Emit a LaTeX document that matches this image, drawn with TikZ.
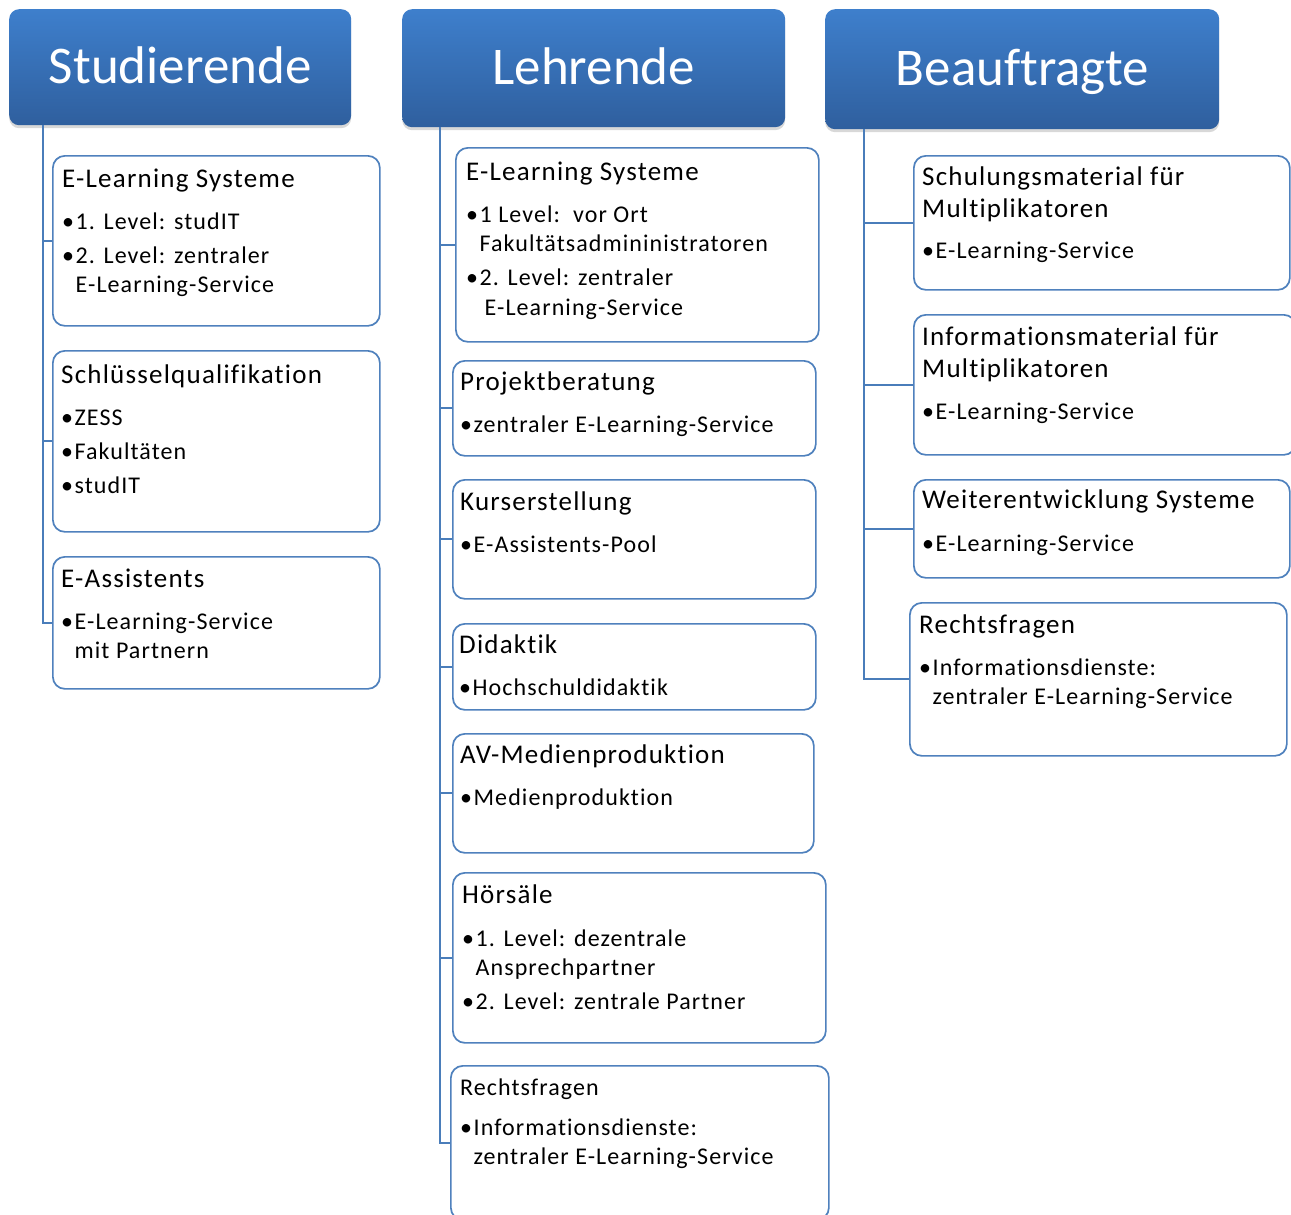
\documentclass[tikz,border=0pt]{standalone}
\usepackage{fontspec}
\setmainfont{Carlito}[RawFeature={-liga}]
\newfontfamily\bodyf{Carlito}[LetterSpace=4.5,RawFeature={-liga}]
\usetikzlibrary{shadows}
\definecolor{hdrTop}{HTML}{3E7FCC}
\definecolor{hdrBot}{HTML}{2F5F9E}
\definecolor{boxLine}{HTML}{4F81BD}
\definecolor{connLine}{HTML}{4A7DBA}
\newcommand\ttl{\fontsize{27}{32}\selectfont}
\newcommand\bl{•\hspace{1.5pt}}
\newcommand\ind{\hphantom{\bl}}
\newcommand\boxtext[3]{\node[txt] (#1t) at ([shift={(#2)}]#1.north west) {\begin{tabular}[t]{@{}l@{}}#3\end{tabular}};}
\begin{document}
\begin{tikzpicture}[x=1pt,y=-1pt,
  hdr/.style={rounded corners=10pt, top color=hdrTop, bottom color=hdrBot, draw=none,
    anchor=north west, text=white, font=\fontsize{53}{60}\selectfont,
    text height=40pt, text depth=8pt, inner sep=0pt,
    drop shadow={opacity=0.3, shadow xshift=0pt, shadow yshift=-3pt}},
  ebox/.style={draw=boxLine, line width=1.7pt, rounded corners=12pt, fill=white,
    anchor=north west, inner sep=0pt},
  txt/.style={anchor=base west, inner sep=0pt, font=\bodyf\fontsize{24}{29.5}\selectfont},
  conn/.style={draw=connLine, line width=1.8pt}]
\fill[white] (0,0) rectangle (1291,1215);
\useasboundingbox (0,0) rectangle (1291,1215);

% headers
\node[hdr, minimum width=342, minimum height=116] (sh) at (9,9) {Studierende};
\node[hdr, minimum width=383, minimum height=118] (lh) at (402,9) {Lehrende};
\node[hdr, minimum width=394, minimum height=120] (bh) at (825,9) {Beauftragte};

% Studierende boxes
\node[ebox, minimum width=327, minimum height=170] (s1) at (52,155) {};
\node[ebox, minimum width=327, minimum height=181] (s2) at (52,350) {};
\node[ebox, minimum width=327, minimum height=132] (s3) at (52,556) {};
\boxtext{s1}{10,32}{\ttl E-Learning Systeme\\[12.5pt] \bl 1. Level: studIT\\[4.5pt] \bl 2. Level: zentraler\\ \ind E-Learning-Service}
\boxtext{s2}{9,33}{\ttl Schlüsselqualifikation\\[12.5pt] \bl ZESS\\[4.5pt] \bl Fakultäten\\[4.5pt] \bl studIT}
\boxtext{s3}{9,31}{\ttl E-Assistents\\[12.5pt] \bl E-Learning-Service\\ \ind mit Partnern}

% Lehrende boxes
\node[ebox, minimum width=363, minimum height=194] (l1) at (455,147) {};
\node[ebox, minimum width=363, minimum height=95] (l2) at (452,360) {};
\node[ebox, minimum width=363, minimum height=119] (l3) at (452,479) {};
\node[ebox, minimum width=363, minimum height=86] (l4) at (452,623) {};
\node[ebox, minimum width=361, minimum height=119] (l5) at (452,733) {};
\node[ebox, minimum width=373, minimum height=170] (l6) at (452,872) {};
\node[ebox, minimum width=378, minimum height=154] (l7) at (450,1065) {};
\boxtext{l1}{11,33}{\ttl E-Learning Systeme\\[12.5pt] \bl 1 Level:\ \ vor Ort\\ \ind Fakultätsadmininistratoren\\[4.5pt] \bl 2. Level: zentraler\\ \ind\hspace{5pt}E-Learning-Service}
\boxtext{l2}{8,30}{\ttl Projektberatung\\[12.5pt] \bl zentraler E-Learning-Service}
\boxtext{l3}{8,31}{\ttl Kurserstellung\\[12.5pt] \bl E-Assistents-Pool}
\boxtext{l4}{7,30}{\ttl Didaktik\\[12.5pt] \bl Hochschuldidaktik}
\boxtext{l5}{8,30}{\ttl AV-Medienproduktion\\[12.5pt] \bl Medienproduktion}
\boxtext{l6}{10,31}{\ttl Hörsäle\\[13.5pt] \bl 1. Level: dezentrale\\ \ind Ansprechpartner\\[4.5pt] \bl 2. Level: zentrale Partner}
\boxtext{l7}{10,30}{Rechtsfragen\\[10.5pt] \bl Informationsdienste:\\ \ind zentraler E-Learning-Service}

% Beauftragte boxes
\node[ebox, minimum width=376, minimum height=134] (b1) at (913,155) {};
\node[ebox, minimum width=382, minimum height=140] (b2) at (913,314) {};
\node[ebox, minimum width=376, minimum height=98] (b3) at (913,479) {};
\node[ebox, minimum width=377, minimum height=153] (b4) at (909,602) {};
\boxtext{b1}{9,30}{\ttl Schulungsmaterial für\\[2.5pt] \ttl Multiplikatoren\\[12.5pt] \bl E-Learning-Service}
\boxtext{b2}{9,31}{\ttl Informationsmaterial für\\[2.5pt] \ttl Multiplikatoren\\[12.5pt] \bl E-Learning-Service}
\boxtext{b3}{9,29}{\ttl Weiterentwicklung Systeme\\[13.5pt] \bl E-Learning-Service}
\boxtext{b4}{10,31}{\ttl Rechtsfragen\\[12.5pt] \bl Informationsdienste:\\ \ind zentraler E-Learning-Service}

% connectors
\coordinate (sa) at ([xshift=34pt]sh.south west);
\coordinate (la) at ([xshift=38pt]lh.south west);
\coordinate (ba) at ([xshift=39pt]bh.south west);
\draw[conn] (sa) |- (s3.west);
\foreach \n in {s1,s2} \draw[conn] (sa |- \n.west) -- (\n.west);
\draw[conn] (la) |- (l7.west);
\foreach \n in {l1,l2,l3,l4,l5,l6} \draw[conn] (la |- \n.west) -- (\n.west);
\draw[conn] (ba) |- (b4.west);
\foreach \n in {b1,b2,b3} \draw[conn] (ba |- \n.west) -- (\n.west);
\end{tikzpicture}
\end{document}
